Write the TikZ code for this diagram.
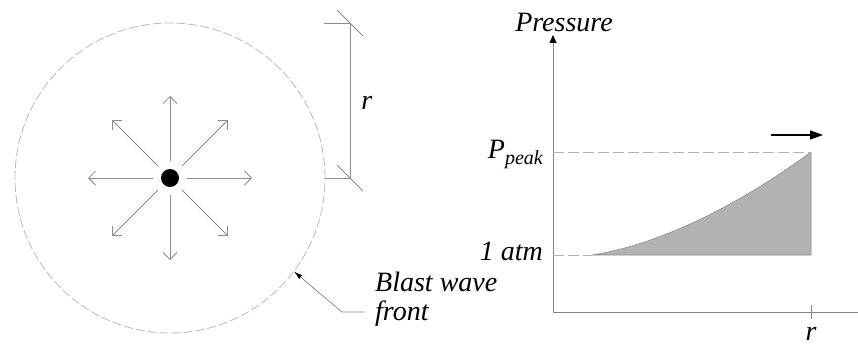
\documentclass[tikz,border=0pt]{standalone}
\usepackage{fontspec}
\setmainfont{Liberation Serif}
\usetikzlibrary{arrows.meta,calc}

\tikzset{
    lbl/.style={inner sep=0pt, font=\fontsize{28}{29}\selectfont\itshape},
    spoke/.style={draw=gray!90, line width=0.8pt, -{Straight Barb[length=7pt,width=14pt]}},
    dimline/.style={draw=gray!90, line width=0.8pt},
    front/.style={draw=gray!55, line width=0.8pt, dash pattern=on 9pt off 3pt},
    level/.style={draw=gray!60, line width=0.8pt, dash pattern=on 11pt off 4pt},
    axis/.style={draw=gray!95, line width=0.8pt}
}

\begin{document}
\begin{tikzpicture}[x=1pt, y=1pt]
    \useasboundingbox (0,0) rectangle (858,357);

    \begin{scope}[shift={(170,179)}]
        \draw[front] (0,0) circle (155);
        \node[circle, fill=black, inner sep=0pt, minimum size=18pt] (charge) at (0,0) {};
        \foreach \a in {0,45,...,315}
            \draw[spoke] (\a:17) -- (\a:82);

        \coordinate (rtop) at (180,155);
        \coordinate (rbot) at (180,0);
        \draw[dimline] (154,155) -- (rtop);
        \draw[dimline] (155,0) -- (rbot);
        \draw[dimline] (rtop) -- (rbot)
            node[lbl, midway, right=11pt, yshift=-2pt] (rdist) {r};
        \draw[dimline] ($(rtop)+(-13,13)$) -- ($(rtop)+(13,-13)$);
        \draw[dimline] ($(rbot)+(-13,13)$) -- ($(rbot)+(13,-13)$);

        \coordinate (hit) at (-37:155);
        \coordinate (elbow) at (172,-134);
        \node[lbl, anchor=base west, align=left] (wavefront) at (205,-142)
            {Blast wave\\front};
        \draw[dimline, -{Latex[black,length=9pt,width=5pt]}]
            (195,-134) -- (elbow) -- (hit);
    \end{scope}

    \begin{scope}[shift={(553,45)}]
        \coordinate (origin) at (0,0);
        \draw[axis, -{Triangle[black,length=8pt,width=7pt]}] (origin) -- (0,277)
            node[lbl, anchor=base, shift={(11,3)}] (pressure) {Pressure};
        \draw[axis] (origin) -- (305,0);
        \draw[axis] (258,-7) -- (258,7);
        \node[lbl, anchor=base] (rpos) at (258,-28) {r};

        \fill[black!30] (39,57) .. controls (110,68) and (190,110) .. (258,160)
            -- (258,57) -- cycle;
        \draw[gray!90, line width=0.6pt] (39,57) .. controls (110,68) and (190,110) .. (258,160)
            -- (258,57) -- (39,57);

        \draw[level] (0,160) -- (258,160);
        \draw[level] (0,57) -- (39,57);

        \node[lbl, anchor=base east] (peak) at (-10,154)
            {P\raisebox{-6pt}{\fontsize{20}{20}\selectfont peak}};
        \node[lbl, anchor=base east] (atm) at (-10,52) {1 atm};

        \coordinate (movefrom) at (218,177);
        \coordinate (moveto) at (270,177);
        \draw[line width=1.1pt, -{Triangle[length=13pt,width=9pt]}] (movefrom) -- (moveto);
    \end{scope}
\end{tikzpicture}
\end{document}
